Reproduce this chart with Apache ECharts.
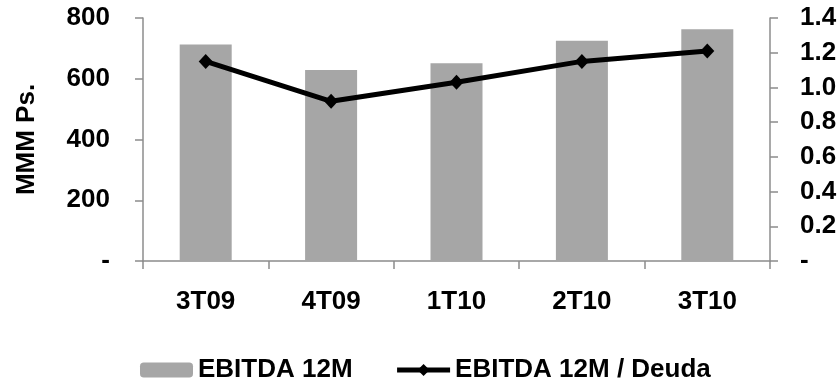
<!DOCTYPE html>
<html>
<head>
<meta charset="utf-8">
<script src="https://cdn.jsdelivr.net/npm/echarts@6/dist/echarts.min.js"></script>
<style>
  html, body { margin: 0; padding: 0; background: #fff; }
  #chart { width: 840px; height: 383px; }
</style>
</head>
<body>
<div id="chart"></div>
<script>
// Quarterly EBITDA (trailing 12 months) and its ratio to debt
const categories = ['3T09', '4T09', '1T10', '2T10', '3T10'];
const ebitda12m = [713, 629, 651, 725, 763];
const ebitdaDeuda = [1.15, 0.92, 1.03, 1.15, 1.21];
const seriesNames = ['EBITDA 12M', 'EBITDA 12M / Deuda'];
const leftAxisName = 'MMM Ps.';

const FONT = 'Liberation Sans, Arial, sans-serif';
const axisGray = '#8c8c8c';
const labelStyle = { color: '#000', fontWeight: 'bold', fontSize: 26, fontFamily: FONT };

const chart = echarts.init(document.getElementById('chart'), null, { renderer: 'canvas' });

chart.setOption({
  animation: false,
  backgroundColor: '#fff',
  grid: { left: 143, right: 70, top: 18, bottom: 122, containLabel: false, outerBoundsMode: 'none' },
  legend: {
    left: 135,
    top: 352,
    itemWidth: 53,
    itemHeight: 15,
    itemGap: 42,
    textStyle: labelStyle,
    lineStyle: { width: 5 },
    data: seriesNames
  },
  xAxis: {
    type: 'category',
    data: categories,
    boundaryGap: true,
    axisLine: { lineStyle: { color: axisGray, width: 1.5 } },
    axisTick: { show: true, length: 8, lineStyle: { color: axisGray, width: 1.5 } },
    axisLabel: Object.assign({ margin: 28 }, labelStyle)
  },
  yAxis: [
    {
      type: 'value',
      min: 0, max: 800, interval: 200,
      name: leftAxisName,
      nameLocation: 'middle',
      nameGap: 103,
      nameMoveOverlap: false,
      nameTextStyle: labelStyle,
      splitLine: { show: false },
      axisLine: { show: true, lineStyle: { color: axisGray, width: 1.5 } },
      axisTick: { show: true, length: 8, lineStyle: { color: axisGray, width: 1.5 } },
      axisLabel: Object.assign({
        margin: 33,
        formatter: v => v === 0 ? '-' : String(v)
      }, labelStyle)
    },
    {
      type: 'value',
      min: 0, max: 1.4, interval: 0.2,
      position: 'right',
      splitLine: { show: false },
      axisLine: { show: true, lineStyle: { color: axisGray, width: 1.5 } },
      axisTick: { show: true, length: 8, lineStyle: { color: axisGray, width: 1.5 } },
      axisLabel: Object.assign({
        margin: 30,
        formatter: v => v === 0 ? '-' : v.toFixed(1)
      }, labelStyle)
    }
  ],
  series: [
    {
      name: seriesNames[0],
      type: 'bar',
      yAxisIndex: 0,
      data: ebitda12m,
      barWidth: 52,
      itemStyle: { color: '#a6a6a6' }
    },
    {
      name: seriesNames[1],
      type: 'line',
      yAxisIndex: 1,
      data: ebitdaDeuda,
      symbol: 'diamond',
      symbolSize: [14, 15],
      lineStyle: { color: '#000', width: 5 },
      itemStyle: { color: '#000' }
    }
  ]
});
</script>
</body>
</html>
